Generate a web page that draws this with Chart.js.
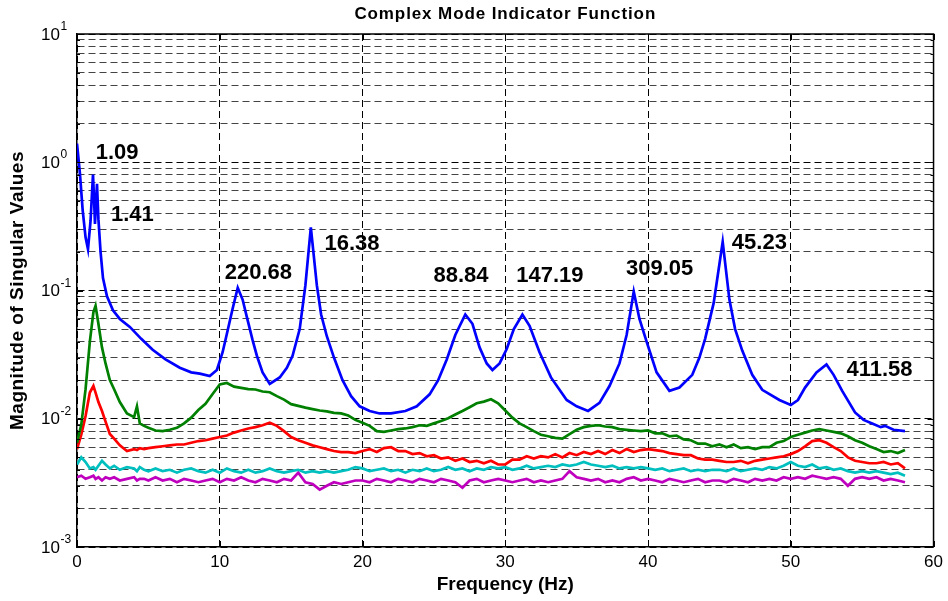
<!DOCTYPE html>
<html>
<head>
<meta charset="utf-8">
<script src="https://cdn.jsdelivr.net/npm/chart.js@4/dist/chart.umd.min.js"></script>
<style>
  html, body { margin: 0; padding: 0; background: #fff; }
  #wrap { width: 948px; height: 601px; }
</style>
</head>
<body>
<div id="wrap"><canvas id="cmif"></canvas></div>
<script>
const FONT = '"Liberation Sans", Arial, sans-serif';

// First singular value (blue), sampled by hand off the plot
const blueHz = [
  0, 0.2, 0.4, 0.6, 0.77, 0.95, 1.12, 1.2, 1.26, 1.4,
  1.5, 1.65, 1.82, 2.1, 2.52, 3.0, 3.7, 4.5, 5.3, 6.2,
  7.2, 8.0, 8.6, 9.3, 9.8, 10.2, 10.5, 10.9, 11.26, 11.6,
  11.9, 12.3, 12.6, 13.0, 13.5, 14.2, 14.7, 15.1, 15.6, 16.0,
  16.38, 16.8, 17.1, 17.5, 18.0, 18.6, 19.2, 19.8, 20.5, 21.2,
  22.0, 23.0, 23.8, 24.7, 25.3, 25.9, 26.5, 27.2, 27.7, 28.2,
  28.7, 29.1, 29.6, 30.1, 30.6, 31.2, 31.7, 32.4, 33.2, 34.3,
  35.0, 35.8, 36.6, 37.3, 38.0, 38.5, 39.0, 39.4, 39.9, 40.6,
  41.5, 42.2, 43.1, 43.6, 44.0, 44.6, 45.23, 45.7, 46.1, 46.6,
  47.3, 48.0, 49.2, 50.0, 50.5, 51.0, 51.8, 52.5, 53.0, 53.6,
  54.5, 55.1, 55.7, 56.3, 56.6, 57.2, 58.0
];
const blueMag = [
  1.4, 0.83, 0.42, 0.26, 0.21, 0.35, 0.8, 0.5, 0.33, 0.68,
  0.36, 0.2, 0.125, 0.09, 0.07, 0.06, 0.052, 0.042, 0.0345, 0.029,
  0.025, 0.023, 0.0225, 0.0215, 0.024, 0.033, 0.046, 0.072, 0.105, 0.085,
  0.062, 0.041, 0.031, 0.023, 0.0187, 0.021, 0.025, 0.031, 0.05, 0.11,
  0.31, 0.11, 0.065, 0.044, 0.03, 0.02, 0.015, 0.0125, 0.0115, 0.011,
  0.011, 0.0115, 0.0125, 0.0155, 0.02, 0.029, 0.045, 0.065, 0.055, 0.036,
  0.027, 0.024, 0.027, 0.035, 0.05, 0.065, 0.053, 0.033, 0.021, 0.014,
  0.0125, 0.0115, 0.0133, 0.018, 0.027, 0.045, 0.098, 0.06, 0.04, 0.023,
  0.0165, 0.0175, 0.022, 0.03, 0.042, 0.08, 0.24, 0.085, 0.05, 0.034,
  0.022, 0.0168, 0.014, 0.0128, 0.014, 0.0175, 0.023, 0.0265, 0.022, 0.0165,
  0.0112, 0.0098, 0.0092, 0.0086, 0.0088, 0.0082, 0.008
];

// Frequency grid shared by the lower singular values:
// hand-picked points below 5 Hz, then every 0.5 Hz up to 58 Hz
const lowHz = [0, 0.3, 0.6, 0.9, 1.15, 1.3, 1.5, 1.75, 2.0, 2.3, 2.6, 3.0, 3.5, 4.0, 4.2, 4.4, 4.7];
const gridHz = lowHz.slice();
for (let f = 5; f <= 58.001; f += 0.5) gridHz.push(Math.round(f * 10) / 10);

// magnitudes below are in units of 1e-3
const greenMilli = [
  6.5, 9, 17, 40, 68, 76, 55, 36, 27, 20, 17, 13.5, 11, 10.3, 12.5, 9.2, 8.8,
  8.5, 8.1, 8.0, 8.2, 8.5, 9.2, 10.2, 11.7, 13.1, 15.6,
  18.5, 19.0, 17.8, 17.4, 17.0, 16.9, 16.3, 16.1, 15.0, 14.1, 13.0, 12.6, 12.2, 11.9, 11.6, 11.4, 11.1, 11.0, 10.6, 9.8,
  9.3, 8.8, 8.0, 7.9, 8.1, 8.3, 8.4, 8.6, 8.9, 8.8, 9.2, 9.6, 10.1, 10.8, 11.5, 12.3, 13.2, 13.6, 14.2, 13.2,
  11.6, 10.2, 9.2, 8.6, 8.0, 7.5, 7.3, 7.1, 7.0, 7.6, 8.2, 8.6, 8.8, 8.9, 8.7, 8.6, 8.3, 8.2, 8.1, 8.0,
  8.1, 7.7, 7.7, 7.3, 7.4, 6.9, 6.8, 6.4, 6.4, 6.1, 6.3, 6.0, 6.3, 5.9, 6.0, 5.8, 6.0, 6.0, 6.5, 6.7,
  7.2, 7.5, 7.8, 8.1, 8.3, 8.1, 7.9, 7.7, 7.3, 6.8, 6.5, 6.1, 5.8, 5.5, 5.6, 5.4, 5.7
];
const redMilli = [
  5.8, 7.5, 10.5, 16, 18, 16, 13.5, 11.5, 9.5, 7.6, 7.0, 6.2, 5.6, 5.8, 5.7, 5.9, 5.8,
  5.9, 6.0, 6.1, 6.2, 6.3, 6.3, 6.5, 6.7, 6.8, 7.0,
  7.2, 7.4, 7.8, 8.1, 8.4, 8.6, 8.9, 9.3, 8.8, 8.0, 7.2, 6.8, 6.5, 6.2, 6.0, 5.8, 5.6, 5.5, 5.5, 5.4,
  5.6, 5.8, 5.5, 5.9, 6.0, 5.6, 5.6, 5.3, 5.4, 5.1, 5.2, 4.9, 5.0, 4.7, 4.9, 4.6, 4.7, 4.5, 4.7, 4.4,
  4.4, 4.8, 4.8, 5.1, 4.9, 5.1, 5.0, 5.3, 5.0, 5.4, 5.2, 5.5, 5.3, 5.6, 5.3, 5.7, 5.4, 5.8, 5.5, 5.7,
  5.8, 5.7, 5.6, 5.4, 5.3, 5.2, 5.2, 4.9, 4.8, 4.8, 4.7, 4.6, 4.6, 4.7, 4.5, 4.7, 4.8, 4.9, 5.0, 5.1,
  5.3, 5.6, 6.1, 6.7, 6.8, 6.5, 6.0, 5.6, 5.0, 4.7, 4.6, 4.5, 4.5, 4.6, 4.4, 4.5, 4.1
];
const cyanMilli = [
  4.4, 5.0, 4.6, 4.1, 4.2, 4.0, 4.3, 4.7, 4.4, 4.1, 4.3, 4.0, 4.2, 4.1, 3.9, 4.2, 4.0,
  3.9, 4.1, 3.9, 4.0, 3.8, 4.0, 4.1, 3.9, 3.8, 4.0,
  3.8, 4.1, 3.9, 3.8, 4.0, 3.8, 3.9, 4.1, 3.9, 3.8, 3.9, 4.0, 3.8, 3.9, 3.8, 3.9, 3.8, 3.9, 4.0, 4.2,
  4.1, 3.9, 4.0, 4.1, 3.9, 4.0, 3.8, 4.0, 3.9, 4.1, 3.9, 4.0, 4.2, 4.0, 4.1, 3.9, 4.1, 4.0, 4.2, 4.1,
  4.2, 4.0, 4.1, 4.3, 4.1, 4.2, 4.3, 4.2, 4.4, 4.3, 4.4, 4.6, 4.4, 4.3, 4.2, 4.3, 4.1, 4.2, 4.1, 4.2,
  4.1, 4.0, 4.1, 3.9, 4.0, 4.1, 3.9, 4.0, 3.9, 4.0, 4.0, 3.9, 4.1, 3.9, 4.0, 4.1, 4.0, 4.2, 4.1, 4.3,
  4.6, 4.3, 4.2, 4.4, 4.1, 4.2, 4.0, 4.1, 3.9, 3.8, 3.9, 3.8, 3.9, 3.8, 3.7, 3.8, 3.6
];
const magentaMilli = [
  3.5, 3.6, 3.4, 3.5, 3.6, 3.4, 3.5, 3.3, 3.5, 3.4, 3.5, 3.3, 3.4, 3.5, 3.3, 3.4, 3.4,
  3.3, 3.5, 3.3, 3.4, 3.2, 3.4, 3.3, 3.2, 3.3, 3.4,
  3.2, 3.4, 3.3, 3.5, 3.3, 3.2, 3.4, 3.3, 3.2, 3.4, 3.3, 3.8, 3.2, 3.1, 2.8, 3.0, 3.2, 3.1, 3.2, 3.3,
  3.3, 3.2, 3.4, 3.3, 3.2, 3.4, 3.3, 3.2, 3.4, 3.3, 3.2, 3.4, 3.3, 3.2, 2.9, 3.3, 3.4, 3.2, 3.3, 3.4,
  3.3, 3.2, 3.3, 3.4, 3.2, 3.3, 3.2, 3.3, 3.4, 3.9, 3.5, 3.4, 3.3, 3.4, 3.2, 3.3, 3.2, 3.4, 3.5, 3.3,
  3.4, 3.3, 3.2, 3.4, 3.3, 3.2, 3.3, 3.4, 3.2, 3.3, 3.3, 3.2, 3.4, 3.3, 3.2, 3.4, 3.3, 3.4, 3.3, 3.5,
  3.4, 3.5, 3.4, 3.6, 3.5, 3.4, 3.5, 3.4, 3.0, 3.4, 3.5, 3.4, 3.5, 3.3, 3.4, 3.3, 3.2
];

// Peak annotations: text, left edge (Hz), vertical centre (magnitude)
const peakLabels   = ['1.09', '1.41', '220.68', '16.38', '88.84', '147.19', '309.05', '45.23', '411.58'];
const peakLabelHz  = [1.31, 2.38, 10.35, 17.34, 24.97, 30.77, 38.46, 45.87, 53.9];
const peakLabelMag = [1.18, 0.39, 0.136, 0.229, 0.13, 0.13, 0.146, 0.235, 0.024];

// Axis ticks
const xTickValues = [0, 10, 20, 30, 40, 50, 60];
const yDecades = [-3, -2, -1, 0, 1];
const yGridValues = [];
yDecades.forEach(e => {
  const mults = e < 1 ? [1, 2, 3, 4, 5, 6, 7, 8, 9] : [1];
  mults.forEach(m => yGridValues.push(m * Math.pow(10, e)));
});

const toPoints = (xs, ys, scale = 1) => xs.map((x, i) => ({ x, y: ys[i] * scale }));

const series = [
  { label: 'SV1', data: toPoints(blueHz, blueMag), color: '#0000ff' },
  { label: 'SV2', data: toPoints(gridHz, greenMilli, 1e-3), color: '#008000' },
  { label: 'SV3', data: toPoints(gridHz, redMilli, 1e-3), color: '#ff0000' },
  { label: 'SV4', data: toPoints(gridHz, cyanMilli, 1e-3), color: '#00bfbf' },
  { label: 'SV5', data: toPoints(gridHz, magentaMilli, 1e-3), color: '#bf00bf' }
];

const datasets = series.map(s => ({
  label: s.label,
  data: s.data,
  borderColor: s.color,
  backgroundColor: 'transparent',
  borderWidth: 2.7,
  pointRadius: 0,
  tension: 0
}));

const isDecade = v => Math.abs(Math.log10(v) - Math.round(Math.log10(v))) < 1e-9;

// Box, inward ticks, log tick labels, titles and peak labels
const decorPlugin = {
  id: 'decor',
  afterDatasetsDraw(chart) {
    const { ctx, scales: { x, y } } = chart;
    ctx.save();
    ctx.fillStyle = '#000';
    ctx.font = 'bold 22px ' + FONT;
    ctx.textAlign = 'left';
    ctx.textBaseline = 'middle';
    peakLabels.forEach((t, i) => {
      ctx.fillText(t, x.getPixelForValue(peakLabelHz[i]), y.getPixelForValue(peakLabelMag[i]));
    });
    ctx.restore();
  },
  afterDraw(chart) {
    const { ctx, chartArea: a, scales: { x, y } } = chart;
    ctx.save();
    ctx.strokeStyle = '#000';
    ctx.setLineDash([]);

    // top and right edges of the box
    ctx.lineWidth = 1.5;
    ctx.beginPath();
    ctx.moveTo(a.left, a.top); ctx.lineTo(a.right, a.top); ctx.lineTo(a.right, a.bottom);
    ctx.stroke();

    // inward tick marks
    ctx.lineWidth = 1;
    ctx.beginPath();
    xTickValues.forEach(v => {
      const px = Math.round(x.getPixelForValue(v)) + 0.5;
      ctx.moveTo(px, a.bottom); ctx.lineTo(px, a.bottom - 6);
      ctx.moveTo(px, a.top); ctx.lineTo(px, a.top + 6);
    });
    yGridValues.forEach(v => {
      const py = Math.round(y.getPixelForValue(v)) + 0.5;
      const len = isDecade(v) ? 6 : 3;
      ctx.moveTo(a.left, py); ctx.lineTo(a.left + len, py);
      ctx.moveTo(a.right, py); ctx.lineTo(a.right - len, py);
    });
    ctx.stroke();

    // y tick labels as 10 with a raised exponent
    ctx.fillStyle = '#000';
    yDecades.forEach(e => {
      const py = y.getPixelForValue(Math.pow(10, e));
      ctx.font = '17px ' + FONT;
      ctx.textAlign = 'right';
      ctx.textBaseline = 'middle';
      ctx.fillText('10', 60, py + 1);
      ctx.font = '12px ' + FONT;
      ctx.textAlign = 'left';
      ctx.textBaseline = 'alphabetic';
      ctx.fillText(String(e), 60.5, py - 4);
    });

    // chart title
    if ('letterSpacing' in ctx) ctx.letterSpacing = '0.9px';
    ctx.font = 'bold 17px ' + FONT;
    ctx.textAlign = 'center';
    ctx.textBaseline = 'middle';
    ctx.fillText('Complex Mode Indicator Function', (a.left + a.right) / 2, 14);

    // axis titles
    if ('letterSpacing' in ctx) ctx.letterSpacing = '0px';
    ctx.font = 'bold 19px ' + FONT;
    ctx.fillText('Frequency (Hz)', (a.left + a.right) / 2, 585);
    ctx.translate(18, (a.top + a.bottom) / 2);
    ctx.rotate(-Math.PI / 2);
    if ('letterSpacing' in ctx) ctx.letterSpacing = '0.5px';
    ctx.fillText('Magnitude of Singular Values', 0, 0);
    ctx.restore();
  }
};

new Chart(document.getElementById('cmif'), {
  type: 'line',
  data: { datasets },
  options: {
    responsive: true,
    maintainAspectRatio: false,
    animation: false,
    layout: { padding: { top: 34, right: 12, left: 0, bottom: 0 } },
    plugins: {
      legend: { display: false },
      tooltip: { enabled: false },
      title: { display: false }
    },
    scales: {
      x: {
        type: 'linear',
        min: 0,
        max: 60,
        afterFit: s => { s.height = 54; },
        afterBuildTicks: s => { s.ticks = xTickValues.map(v => ({ value: v })); },
        ticks: {
          color: '#000',
          font: { family: FONT, size: 17 },
          padding: 5,
          maxRotation: 0
        },
        grid: { color: '#000', lineWidth: 1, drawTicks: false },
        border: { display: true, color: '#000', width: 1.5, dash: [7, 4] }
      },
      y: {
        type: 'logarithmic',
        min: 1e-3,
        max: 10,
        afterFit: s => { s.width = 77; },
        afterBuildTicks: s => { s.ticks = yGridValues.map(v => ({ value: v })); },
        ticks: { display: false },
        grid: {
          color: ctx => (ctx.tick && isDecade(ctx.tick.value)) ? '#000' : '#444',
          lineWidth: 1,
          drawTicks: false
        },
        border: { display: true, color: '#000', width: 1.5, dash: [7, 4] }
      }
    }
  },
  plugins: [decorPlugin]
});
</script>
</body>
</html>
